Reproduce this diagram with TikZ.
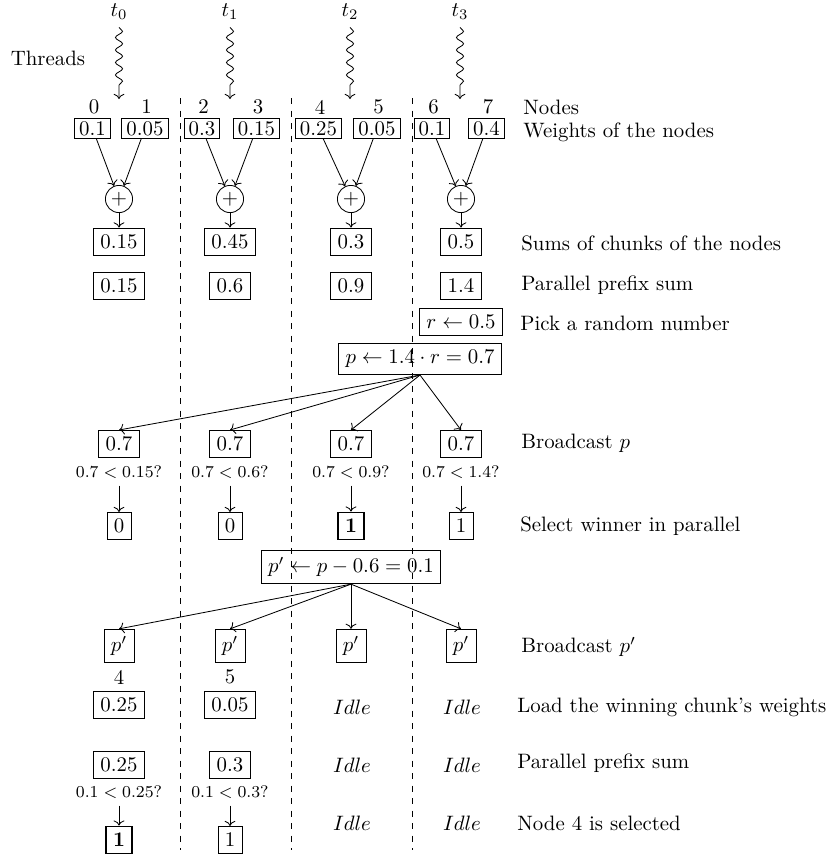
\documentclass[tikz,border=0pt]{standalone}
\usepackage{amsmath,amssymb}
\usepackage{tikz}
\usetikzlibrary{arrows.meta,decorations.pathmorphing}

\tikzset{
  valbox/.style={draw,inner sep=3.3pt},
  wbox/.style={draw,inner xsep=2.2pt,inner ysep=1.6pt},
  winbox/.style={draw,thick,inner sep=3.3pt},
  plusnode/.style={draw,circle,inner sep=1pt},
  rowlabel/.style={anchor=west},
  cmptext/.style={font=\fontsize{7.6}{9}\selectfont},
  thread/.style={->,decorate,decoration={snake,amplitude=1.7pt,segment length=6pt,post length=6pt}},
}

\begin{document}
\begin{tikzpicture}[x=0.48pt,y=-0.48pt,>=To]
  \useasboundingbox (0,0) rectangle (835,859);
  % Parameters (rows, pixel units from the top)
  \def\ySepTop{98}
  \def\ySepBot{850}
  \def\ySum{241.5}
  \def\yPre{286}
  \def\yBc{444}
  \def\yCmp{472}
  \def\yRes{526}
  \def\yBcp{646}
  % Threads
  \node (threads) at (48,58) {Threads};
  \foreach \i/\x in {0/119,1/230,2/350,3/460}
  {\node (t\i) at (\x,12) {$t_\i$}; \coordinate (tip\i) at (\x,99); \draw[thread] (t\i) -- (tip\i);}
  % Column separators
  \foreach \x in {180,291,412}
  {\draw[dashed] (\x,\ySepTop) -- (\x,\ySepBot);}
  % Nodes and their weights
  \foreach \n/\x/\w in {0/92.5/0.1, 1/145/0.05, 2/202/0.3, 3/256.5/0.15, 4/318.5/0.25, 5/377/0.05, 6/432/0.1, 7/486.5/0.4}
  {\node (n\n) at (\x+1.5,107) {\n}; \node[wbox] (w\n) at (\x,128.5) {$\w$};}
  % Sums of the chunks
  \foreach \i/\x/\s/\p in {0/119/0.15/0.15, 1/230/0.45/0.6, 2/351/0.3/0.9, 3/461/0.5/1.4}
  {\node[plusnode] (plus\i) at (\x,199) {$+$};
   \node[valbox] (sum\i) at (\x,\ySum) {$\s$};
   \node[valbox] (pre\i) at (\x,\yPre) {$\p$};
   \draw[->] (plus\i) -- (sum\i);}
  \foreach \a/\b/\i in {0/1/0, 2/3/1, 4/5/2, 6/7/3}
  {\draw[->] (w\a) -- (plus\i); \draw[->] (w\b) -- (plus\i);}
  % Random number and p
  \node[valbox] (rnd) at (461,322) {$r \leftarrow 0.5$};
  \node[valbox] (pbox) at (420,359) {$p \leftarrow 1.4 \cdot r = 0.7$};
  % Broadcast p and compare
  \foreach \i/\x/\p/\r in {0/119/0.15/0, 1/230/0.6/0, 2/351/0.9/1, 3/461/1.4/1}
  {\node[valbox] (bc\i) at (\x,\yBc) {$0.7$};
   \node[cmptext] (cmp\i) at (\x,\yCmp) {$0.7 < \p?$};
   \draw[->] (pbox.south) -- (bc\i.north);}
  \node[valbox] (res0) at (119,\yRes) {$0$};
  \node[valbox] (res1) at (230,\yRes) {$0$};
  \node[winbox] (res2) at (351,\yRes) {$\mathbf{1}$};
  \node[valbox] (res3) at (461,\yRes) {$1$};
  \foreach \i in {0,...,3}
  {\draw[->] (cmp\i) -- (res\i);}
  % p' and its broadcast
  \node[valbox] (ppbox) at (351,567) {$p' \leftarrow p - 0.6 = 0.1$};
  \foreach \i/\x in {0/119,1/230,2/351,3/461}
  {\node[valbox] (bcp\i) at (\x,\yBcp) {$p'$}; \draw[->] (ppbox.south) -- (bcp\i.north);}
  % Winning chunk
  \node (m4) at (119,677) {4};
  \node (m5) at (230,677) {5};
  \node[valbox] (ld0) at (119,705) {$0.25$};
  \node[valbox] (ld1) at (230,705) {$0.05$};
  \node[valbox] (pr0) at (119,765) {$0.25$};
  \node[valbox] (pr1) at (230,765) {$0.3$};
  \node[cmptext] (cq0) at (119,792) {$0.1 < 0.25?$};
  \node[cmptext] (cq1) at (230,792) {$0.1 < 0.3?$};
  \node[winbox] (win0) at (119,840) {$\mathbf{1}$};
  \node[valbox] (win1) at (230,840) {$1$};
  \draw[->] (cq0) -- (win0);
  \draw[->] (cq1) -- (win1);
  \foreach \x/\c in {352/a,462/b}
  {\foreach \y/\r in {707/1,765/2,823/3}
   {\node (idle\c\r) at (\x,\y) {$Idle$};}}
  % Row descriptions
  \node[rowlabel] (lNodes) at (516,107) {Nodes};
  \node[rowlabel] (lWeights) at (516,132) {Weights of the nodes};
  \node[rowlabel] (lSums) at (514,243) {Sums of chunks of the nodes};
  \node[rowlabel] (lPre) at (514,285) {Parallel prefix sum};
  \node[rowlabel] (lRnd) at (513,323) {Pick a random number};
  \node[rowlabel] (lBc) at (514,443) {Broadcast $p$};
  \node[rowlabel] (lSel) at (513,526) {Select winner in parallel};
  \node[rowlabel] (lBcp) at (514,647) {Broadcast $p'$};
  \node[rowlabel] (lLoad) at (510,707) {Load the winning chunk's weights};
  \node[rowlabel] (lPre2) at (510,763) {Parallel prefix sum};
  \node[rowlabel] (lSel2) at (510,823) {Node 4 is selected};
\end{tikzpicture}
\end{document}
